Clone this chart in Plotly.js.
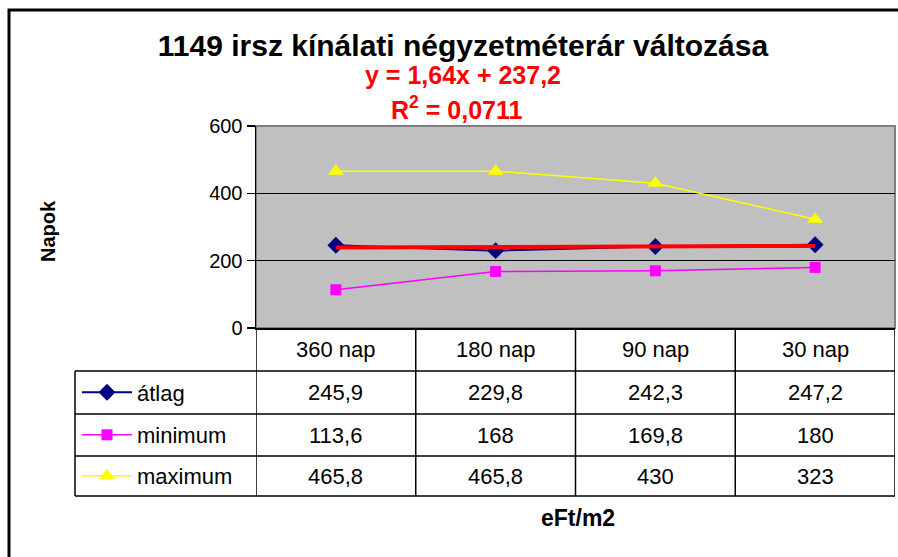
<!DOCTYPE html>
<html>
<head>
<meta charset="utf-8">
<script src="https://cdn.plot.ly/plotly-3.0.1.min.js"></script>
<style>
  body { margin: 0; background: #fff; }
  #chart { width: 898px; height: 557px; }
</style>
</head>
<body>
<div id="chart"></div>
<script>
const categories = ['360 nap', '180 nap', '90 nap', '30 nap'];
const seriesNames = ['átlag', 'minimum', 'maximum'];
const atlag = [245.9, 229.8, 242.3, 247.2];
const minimum = [113.6, 168, 169.8, 180];
const maximum = [465.8, 465.8, 430, 323];
// trendline of átlag, values at first and last category (y = 1,64x + 237,2)
const trendCats = ['360 nap', '30 nap'];
const trendValues = [238.84, 243.76];
const yTicks = [0, 200, 400, 600];

const W = 898, H = 557;
const px = (x) => x / W;
const py = (y) => 1 - y / H;
const FONT = '"Liberation Sans", Arial, sans-serif';

// table row edges (pixels from top) and text centres
const rowEdges = [328, 371, 414, 456, 496];
const rowMid = (i) => (rowEdges[i] + rowEdges[i + 1]) / 2;
const tableLeft = 75, tableRight = 895;

const fmt = (v) => String(v).replace('.', ',');

const traces = [
  {
    x: categories, y: atlag, name: seriesNames[0], type: 'scatter', mode: 'lines+markers',
    line: {color: '#000080', width: 2},
    marker: {symbol: 'diamond', size: 13, color: '#000080'},
    legend: 'legend'
  },
  {
    x: categories, y: minimum, name: seriesNames[1], type: 'scatter', mode: 'lines+markers',
    line: {color: '#FF00FF', width: 1.5},
    marker: {symbol: 'square', size: 11, color: '#FF00FF'},
    legend: 'legend2'
  },
  {
    x: categories, y: maximum, name: seriesNames[2], type: 'scatter', mode: 'lines+markers',
    line: {color: '#FFFF00', width: 1.5},
    marker: {symbol: 'triangle-up', size: 14, color: '#FFFF00'},
    legend: 'legend3'
  },
  {
    x: trendCats, y: trendValues, type: 'scatter', mode: 'lines',
    line: {color: '#FF0000', width: 4}, showlegend: false, hoverinfo: 'skip'
  }
];

const shapes = [];
const annotations = [];

// outer frame
shapes.push({type: 'rect', xref: 'paper', yref: 'paper', x0: px(9), x1: px(910), y0: py(10), y1: py(570),
  line: {color: '#000', width: 3}, layer: 'above'});
// plot area border (grey)
shapes.push({type: 'rect', xref: 'x domain', yref: 'y domain', x0: 0, x1: 1, y0: 0, y1: 1,
  line: {color: '#808080', width: 2}, layer: 'below'});

// table horizontal lines
for (let i = 1; i < rowEdges.length; i++) {
  shapes.push({type: 'line', xref: 'paper', yref: 'paper', x0: px(tableLeft), x1: px(tableRight),
    y0: py(rowEdges[i]), y1: py(rowEdges[i]), line: {color: '#000', width: 1.5}});
}
// table vertical lines on category boundaries
for (let i = 0; i <= categories.length; i++) {
  shapes.push({type: 'line', xref: 'x', yref: 'paper', x0: i - 0.5, x1: i - 0.5,
    y0: py(rowEdges[0]), y1: py(rowEdges[rowEdges.length - 1]), line: {color: '#000', width: 1.5}});
}
// left border of legend column
shapes.push({type: 'line', xref: 'paper', yref: 'paper', x0: px(tableLeft), x1: px(tableLeft),
  y0: py(rowEdges[1]), y1: py(rowEdges[4]), line: {color: '#000', width: 1.5}});

const cellFont = {family: FONT, size: 22, color: '#000'};
// header cells
categories.forEach((c) => {
  annotations.push({x: c, xref: 'x', y: py(rowMid(0)), yref: 'paper', text: c, showarrow: false,
    font: cellFont, xanchor: 'center', yanchor: 'middle'});
});
// value cells
[atlag, minimum, maximum].forEach((vals, r) => {
  vals.forEach((v, i) => {
    annotations.push({x: categories[i], xref: 'x', y: py(rowMid(r + 1)), yref: 'paper', text: fmt(v),
      showarrow: false, font: cellFont, xanchor: 'center', yanchor: 'middle'});
  });
});

// equation + R²
const redFont = {family: FONT, size: 25, color: '#FF0000', weight: 'bold'};
annotations.push({x: px(463), y: py(75), xref: 'paper', yref: 'paper', showarrow: false,
  xanchor: 'center', yanchor: 'middle', text: 'y = 1,64x + 237,2', font: redFont});
annotations.push({x: px(457), y: py(108), xref: 'paper', yref: 'paper', showarrow: false,
  xanchor: 'center', yanchor: 'middle', text: 'R<sup>2</sup> = 0,0711', font: redFont});
// axis titles
annotations.push({x: px(48), y: py(231), xref: 'paper', yref: 'paper', showarrow: false, textangle: -90,
  xanchor: 'center', yanchor: 'middle',
  text: 'Napok', font: {family: FONT, size: 20, color: '#000', weight: 'bold'}});
annotations.push({x: px(578), y: py(518), xref: 'paper', yref: 'paper', showarrow: false,
  xanchor: 'center', yanchor: 'middle',
  text: 'eFt/m2', font: {family: FONT, size: 23, color: '#000', weight: 'bold'}});

const legendBase = {
  x: px(tableLeft + 2), xanchor: 'left', yanchor: 'middle', bgcolor: 'rgba(0,0,0,0)',
  borderwidth: 0, font: {family: FONT, size: 22, color: '#000'}, itemclick: false,
  itemwidth: 50
};

const layout = {
  width: W, height: H,
  margin: {l: 0, r: 0, t: 0, b: 0},
  paper_bgcolor: '#fff',
  plot_bgcolor: '#C0C0C0',
  title: {
    text: '1149 irsz kínálati négyzetméterár változása',
    x: px(463), xanchor: 'center', y: py(45), yanchor: 'middle',
    font: {family: FONT, size: 30, color: '#000', weight: 'bold'}
  },
  xaxis: {
    domain: [px(256), px(895)], type: 'category', range: [-0.5, 3.5],
    showticklabels: false, ticks: '', showgrid: false, zeroline: false,
    showline: true, linecolor: '#000', linewidth: 1.5, fixedrange: true
  },
  yaxis: {
    domain: [py(328), py(126)], range: [0, 600], tickvals: yTicks,
    ticks: 'outside', ticklen: 8, tickcolor: '#000', tickwidth: 1.5,
    showline: true, linecolor: '#000', linewidth: 1.5,
    showgrid: true, gridcolor: '#000', gridwidth: 1.5, zeroline: false,
    tickfont: {family: FONT, size: 20, color: '#000'}, fixedrange: true
  },
  legend: Object.assign({}, legendBase, {y: py(rowMid(1))}),
  legend2: Object.assign({}, legendBase, {y: py(rowMid(2))}),
  legend3: Object.assign({}, legendBase, {y: py(rowMid(3))}),
  shapes: shapes,
  annotations: annotations,
  showlegend: true
};

Plotly.newPlot('chart', traces, layout, {displayModeBar: false, staticPlot: true});
</script>
</body>
</html>
